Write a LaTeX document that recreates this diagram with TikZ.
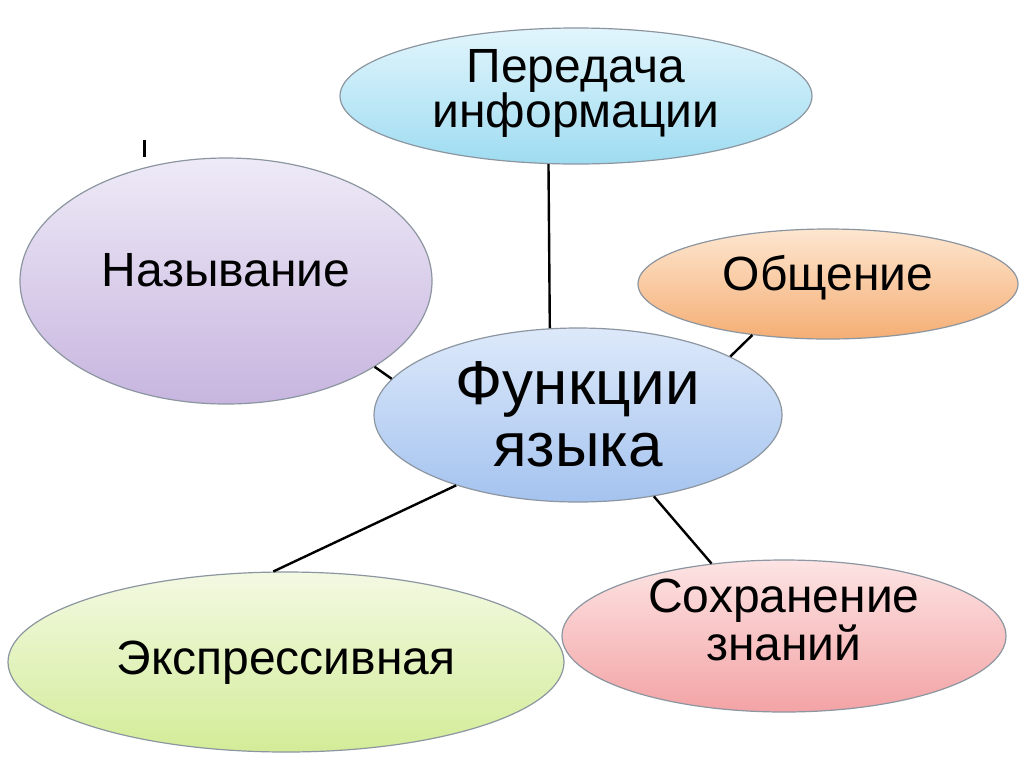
\documentclass[tikz,border=0pt]{standalone}
\usepackage{fontspec}
\setmainfont{Liberation Sans}
\usetikzlibrary{shapes.geometric}
\definecolor{bordergray}{HTML}{8C96A0}
\definecolor{infotop}{HTML}{E2F5FC}\definecolor{infobot}{HTML}{9EDCF1}
\definecolor{nametop}{HTML}{EEEAF7}\definecolor{namebot}{HTML}{C7B5DF}
\definecolor{commtop}{HTML}{FDE6D0}\definecolor{commbot}{HTML}{F5AE74}
\definecolor{functop}{HTML}{DDE9FA}\definecolor{funcbot}{HTML}{A4C3EF}
\definecolor{exprtop}{HTML}{F3F9E2}\definecolor{exprbot}{HTML}{D3EC98}
\definecolor{savetop}{HTML}{FDE4E4}\definecolor{savebot}{HTML}{F3A3A5}
\tikzset{
  bubble/.style={ellipse, draw=bordergray, line width=0.6pt, inner sep=0pt, align=center},
  lbltext/.style={font=\fontsize{24}{22.5}\selectfont, align=center, text=black},
  bigtext/.style={font=\fontsize{31}{31}\selectfont, align=center, text=black},
  link/.style={draw=black, line width=1.2pt},
}
\begin{document}
\begin{tikzpicture}[x=0.5pt, y=-0.5pt]
\useasboundingbox[fill=white] (0,0) rectangle (1024,767);

\node[bubble, top color=infotop, bottom color=infobot,
  minimum width=236pt, minimum height=68pt,
  label={[lbltext, yshift=1.5pt]center:{Передача\\информации}}] (info) at (576,96) {};
\node[bubble, top color=nametop, bottom color=namebot,
  minimum width=206pt, minimum height=123pt,
  label={[lbltext, yshift=5.5pt]center:{Называние}}] (name) at (226,281) {};
\node[bubble, top color=commtop, bottom color=commbot,
  minimum width=190pt, minimum height=55pt,
  label={[lbltext, yshift=3pt]center:{Общение}}] (comm) at (828,284) {};
\node[bubble, top color=functop, bottom color=funcbot,
  minimum width=204pt, minimum height=87pt,
  label={[bigtext, yshift=0.5pt]center:{Функции\\языка}}] (func) at (578,415) {};
\node[bubble, top color=exprtop, bottom color=exprbot,
  minimum width=278pt, minimum height=90pt,
  label={[lbltext, yshift=-0.5pt]center:{Экспрессивная}}] (expr) at (286,662) {};
\node[bubble, top color=savetop, bottom color=savebot,
  minimum width=222pt, minimum height=76pt,
  label={[lbltext, yshift=8pt]center:{Сохранение\\знаний}}] (save) at (784,636) {};

\draw[link] (info.248.2) -- (func.108.6);
\draw[link] (comm.214.2) -- (func.21.3);
\draw[link] (name.330.3) -- (func.169.1);
\draw[link] (expr.98.2) -- (func.210.9);
\draw[link] (save.135) -- (func.313.6);

\draw[line width=1.5pt] (144,140) -- (144,157);
\end{tikzpicture}
\end{document}
